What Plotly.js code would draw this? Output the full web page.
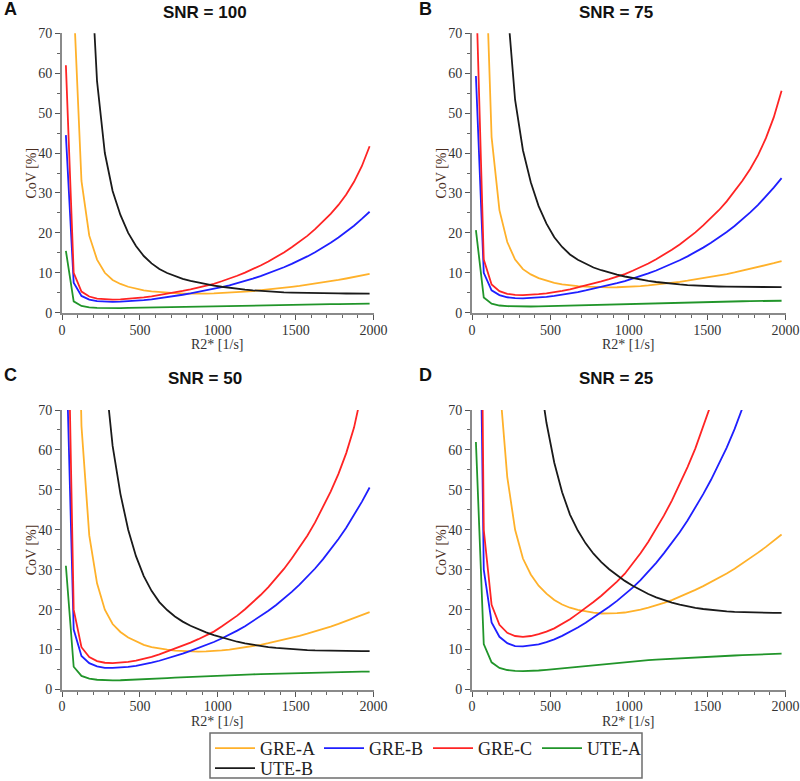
<!DOCTYPE html>
<html>
<head>
<meta charset="utf-8">
<script src="https://cdn.plot.ly/plotly-3.0.1.min.js"></script>
<style>
  html, body { margin: 0; padding: 0; background: #fff; }
  #chart { width: 800px; height: 781px; }
</style>
</head>
<body>
<div id="chart"></div>
<script>
// R2* sample positions [1/s], shared by every panel
const r2star = [25, 75, 125, 175, 225, 275, 325, 375, 425, 475, 525, 575, 625, 675, 725, 775,
    825, 875, 925, 975, 1025, 1075, 1125, 1175, 1225, 1275, 1325, 1375, 1425, 1475, 1525, 1575,
    1625, 1675, 1725, 1775, 1825, 1875, 1925, 1975];

const seriesNames = ["GRE-A", "GRE-B", "GRE-C", "UTE-A", "UTE-B"];
const seriesColors = ["#ffb12a", "#1f1fff", "#ff2424", "#21952a", "#1a1a1a"];

// CoV [%], SNR = 100
const greA_100 = [600, 78, 33, 19.3, 13.3, 10.0, 8.2, 7.2, 6.5, 6.0, 5.6, 5.32, 5.12, 4.98, 4.88, 4.81,
    4.76, 4.75, 4.78, 4.82, 4.9, 5.0, 5.13, 5.27, 5.42, 5.6, 5.8, 6.01, 6.24, 6.47, 6.72, 6.99,
    7.26, 7.56, 7.88, 8.22, 8.57, 8.93, 9.3, 9.7];
const greB_100 = [44.5, 7.5, 4.2, 3.3, 2.9, 2.72, 2.7, 2.75, 2.83, 2.97, 3.14, 3.36, 3.6, 3.88, 4.18, 4.5,
    4.83, 5.18, 5.55, 5.95, 6.38, 6.85, 7.37, 7.93, 8.54, 9.18, 9.85, 10.58, 11.38, 12.23, 13.13, 14.1,
    15.15, 16.3, 17.55, 18.85, 20.25, 21.8, 23.5, 25.3];
const greC_100 = [62, 10, 5.3, 4.05, 3.55, 3.35, 3.3, 3.35, 3.47, 3.62, 3.83, 4.1, 4.4, 4.75, 5.1, 5.48,
    5.87, 6.3, 6.75, 7.25, 7.88, 8.53, 9.25, 10.05, 10.9, 11.83, 12.83, 13.93, 15.1, 16.4, 17.77, 19.25,
    20.92, 22.75, 24.78, 27.0, 29.6, 32.8, 36.7, 41.7];
const uteA_100 = [15.5, 2.85, 1.7, 1.35, 1.22, 1.16, 1.15, 1.16, 1.19, 1.23, 1.28, 1.33, 1.38, 1.43, 1.48, 1.53,
    1.58, 1.63, 1.68, 1.72, 1.76, 1.8, 1.84, 1.87, 1.9, 1.93, 1.96, 1.99, 2.02, 2.05, 2.07, 2.09,
    2.11, 2.13, 2.15, 2.17, 2.19, 2.21, 2.23, 2.25];
const uteB_100 = [900, 320, 160, 95, 58, 40, 30.5, 24.5, 20.0, 16.7, 14.2, 12.35, 10.95, 9.95, 9.15, 8.5,
    7.98, 7.53, 7.15, 6.8, 6.5, 6.22, 5.98, 5.77, 5.59, 5.44, 5.31, 5.2, 5.11, 5.04, 4.98, 4.93,
    4.89, 4.86, 4.84, 4.82, 4.81, 4.8, 4.8, 4.8];

// CoV [%], SNR = 75
const greA_75 = [800, 104, 44, 25.7, 17.7, 13.3, 10.9, 9.6, 8.67, 8.0, 7.47, 7.09, 6.83, 6.64, 6.51, 6.41,
    6.35, 6.33, 6.37, 6.43, 6.53, 6.67, 6.84, 7.03, 7.23, 7.47, 7.73, 8.01, 8.32, 8.63, 8.96, 9.32,
    9.68, 10.08, 10.51, 10.96, 11.43, 11.91, 12.4, 12.93];
const greB_75 = [59.3, 10, 5.6, 4.4, 3.87, 3.63, 3.6, 3.67, 3.77, 3.96, 4.19, 4.48, 4.8, 5.17, 5.57, 6.0,
    6.44, 6.91, 7.4, 7.93, 8.51, 9.13, 9.83, 10.57, 11.39, 12.24, 13.13, 14.11, 15.17, 16.31, 17.51, 18.8,
    20.2, 21.73, 23.4, 25.13, 27.0, 29.07, 31.33, 33.73];
const greC_75 = [82.7, 13.3, 7.07, 5.4, 4.73, 4.47, 4.4, 4.47, 4.63, 4.83, 5.11, 5.47, 5.87, 6.33, 6.8, 7.31,
    7.83, 8.4, 9.0, 9.67, 10.51, 11.37, 12.33, 13.4, 14.53, 15.77, 17.11, 18.57, 20.13, 21.87, 23.69, 25.67,
    27.89, 30.33, 33.04, 36.0, 39.47, 43.73, 48.93, 55.6];
const uteA_75 = [20.7, 3.8, 2.27, 1.8, 1.63, 1.55, 1.53, 1.55, 1.59, 1.64, 1.71, 1.77, 1.84, 1.91, 1.97, 2.04,
    2.11, 2.17, 2.24, 2.29, 2.35, 2.4, 2.45, 2.49, 2.53, 2.57, 2.61, 2.65, 2.69, 2.73, 2.76, 2.79,
    2.81, 2.84, 2.87, 2.89, 2.92, 2.95, 2.97, 3.0];
const uteB_75 = [1200, 427, 213, 127, 77.3, 53.3, 40.7, 32.7, 26.7, 22.3, 18.9, 16.47, 14.6, 13.27, 12.2, 11.33,
    10.64, 10.04, 9.53, 9.07, 8.67, 8.29, 7.97, 7.69, 7.45, 7.25, 7.08, 6.93, 6.81, 6.72, 6.64, 6.57,
    6.52, 6.48, 6.45, 6.43, 6.41, 6.4, 6.4, 6.4];

// CoV [%], SNR = 50
const greA_50 = [1200, 156, 66, 38.6, 26.6, 20, 16.4, 14.4, 13, 12, 11.2, 10.64, 10.24, 9.96, 9.76, 9.62,
    9.52, 9.5, 9.56, 9.64, 9.8, 10, 10.26, 10.54, 10.84, 11.2, 11.6, 12.02, 12.48, 12.94, 13.44, 13.98,
    14.52, 15.12, 15.76, 16.44, 17.14, 17.86, 18.6, 19.4];
const greB_50 = [89, 15, 8.4, 6.6, 5.8, 5.44, 5.4, 5.5, 5.66, 5.94, 6.28, 6.72, 7.2, 7.76, 8.36, 9.0,
    9.66, 10.36, 11.1, 11.9, 12.76, 13.7, 14.74, 15.86, 17.08, 18.36, 19.7, 21.16, 22.76, 24.46, 26.26, 28.2,
    30.3, 32.6, 35.1, 37.7, 40.5, 43.6, 47.0, 50.6];
const greC_50 = [124, 20, 10.6, 8.1, 7.1, 6.7, 6.6, 6.7, 6.94, 7.24, 7.66, 8.2, 8.8, 9.5, 10.2, 10.96,
    11.74, 12.6, 13.5, 14.5, 15.76, 17.06, 18.5, 20.1, 21.8, 23.66, 25.66, 27.86, 30.2, 32.8, 35.54, 38.5,
    41.84, 45.5, 49.56, 54.0, 59.2, 65.6, 73.4, 83.4];
const uteA_50 = [31, 5.7, 3.4, 2.7, 2.44, 2.32, 2.3, 2.32, 2.38, 2.46, 2.56, 2.66, 2.76, 2.86, 2.96, 3.06,
    3.16, 3.26, 3.36, 3.44, 3.52, 3.6, 3.68, 3.74, 3.8, 3.86, 3.92, 3.98, 4.04, 4.1, 4.14, 4.18,
    4.22, 4.26, 4.3, 4.34, 4.38, 4.42, 4.46, 4.5];
const uteB_50 = [1800, 640, 320, 190, 116, 80, 61, 49, 40, 33.4, 28.4, 24.7, 21.9, 19.9, 18.3, 17.0,
    15.96, 15.06, 14.3, 13.6, 13.0, 12.44, 11.96, 11.54, 11.18, 10.88, 10.62, 10.4, 10.22, 10.08, 9.96, 9.86,
    9.78, 9.72, 9.68, 9.64, 9.62, 9.6, 9.6, 9.6];

// CoV [%], SNR = 25
const greA_25 = [2400, 312, 132, 77.2, 53.2, 40, 32.8, 28.8, 26, 24, 22.4, 21.28, 20.48, 19.92, 19.52, 19.24,
    19.04, 19, 19.12, 19.28, 19.6, 20, 20.52, 21.08, 21.68, 22.4, 23.2, 24.04, 24.96, 25.88, 26.88, 27.96,
    29.04, 30.24, 31.52, 32.88, 34.28, 35.72, 37.2, 38.8];
const greB_25 = [178, 30, 16.8, 13.2, 11.6, 10.88, 10.8, 11.0, 11.32, 11.88, 12.56, 13.44, 14.4, 15.52, 16.72, 18.0,
    19.32, 20.72, 22.2, 23.8, 25.52, 27.4, 29.48, 31.72, 34.16, 36.72, 39.4, 42.32, 45.52, 48.92, 52.52, 56.4,
    60.6, 65.2, 70.2, 75.4, 81, 87.2, 94, 101.2];
const greC_25 = [248, 40, 21.2, 16.2, 14.2, 13.4, 13.2, 13.4, 13.88, 14.48, 15.32, 16.4, 17.6, 19.0, 20.4, 21.92,
    23.48, 25.2, 27.0, 29.0, 31.52, 34.12, 37.0, 40.2, 43.6, 47.32, 51.32, 55.72, 60.4, 65.6, 71.08, 77,
    83.68, 91, 99.12, 108, 118.4, 131.2, 146.8, 166.8];
const uteA_25 = [62, 11.4, 6.8, 5.4, 4.88, 4.64, 4.6, 4.64, 4.76, 4.92, 5.12, 5.32, 5.52, 5.72, 5.92, 6.12,
    6.32, 6.52, 6.72, 6.88, 7.04, 7.2, 7.36, 7.48, 7.6, 7.72, 7.84, 7.96, 8.08, 8.2, 8.28, 8.36,
    8.44, 8.52, 8.6, 8.68, 8.76, 8.84, 8.92, 9.0];
const uteB_25 = [3600, 1280, 640, 380, 232, 160, 122, 98, 80, 66.8, 56.8, 49.4, 43.8, 39.8, 36.6, 34,
    31.92, 30.12, 28.6, 27.2, 26, 24.88, 23.92, 23.08, 22.36, 21.76, 21.24, 20.8, 20.44, 20.16, 19.92, 19.72,
    19.56, 19.44, 19.36, 19.28, 19.24, 19.2, 19.2, 19.2];

const panels = [
    { letter: "A", title: "SNR = 100", series: [greA_100, greB_100, greC_100, uteA_100, uteB_100] },
    { letter: "B", title: "SNR = 75", series: [greA_75, greB_75, greC_75, uteA_75, uteB_75] },
    { letter: "C", title: "SNR = 50", series: [greA_50, greB_50, greC_50, uteA_50, uteB_50] },
    { letter: "D", title: "SNR = 25", series: [greA_25, greB_25, greC_25, uteA_25, uteB_25] },
];

const W = 800;
const H = 781;
const px = (x) => x / W;
const py = (y) => (H - y) / H;

// pixel boxes of the four plot areas: [left, right, top, bottom]
const boxes = [
    [62, 373.5, 33.3, 312.7],
    [472, 785.5, 33.3, 312.7],
    [62, 373.5, 410, 689.5],
    [472, 785.5, 410, 689.5],
];

const serif = "Liberation Serif, Times New Roman, serif";
const sans = "Liberation Sans, Arial, sans-serif";

const traces = [];
const layout = {
    width: W,
    height: H,
    // fixed margins: the legend sits low and must not push the plot areas up
    margin: { t: 0, r: 0, b: 0, l: 0, autoexpand: false },
    paper_bgcolor: "#ffffff",
    plot_bgcolor: "#ffffff",
    showlegend: true,
    annotations: [],
    shapes: [],
    legend: {
        orientation: "h",
        x: px(210),
        y: py(730),
        xanchor: "left",
        yanchor: "top",
        bgcolor: "rgba(0,0,0,0)",
        borderwidth: 0,
        itemwidth: 40,
        entrywidth: 54,
        font: { family: serif, size: 18, color: "#222" },
    },
    legend2: {
        orientation: "h",
        x: px(210),
        y: py(750),
        xanchor: "left",
        yanchor: "top",
        bgcolor: "rgba(0,0,0,0)",
        borderwidth: 0,
        itemwidth: 40,
        font: { family: serif, size: 18, color: "#222" },
    },
};

panels.forEach((panel, p) => {
    const n = p === 0 ? "" : String(p + 1);
    const [left, right, top, bottom] = boxes[p];

    panel.series.forEach((values, s) => {
        traces.push({
            x: r2star,
            y: values,
            name: seriesNames[s],
            type: "scatter",
            mode: "lines",
            line: { color: seriesColors[s], width: 1.8 },
            xaxis: "x" + n,
            yaxis: "y" + n,
            showlegend: p === 0,
            legend: s === 4 ? "legend2" : "legend",
            hoverinfo: "skip",
        });
    });

    layout["xaxis" + n] = {
        domain: [px(left), px(right)],
        anchor: "y" + n,
        range: [0, 2000],
        tickvals: [0, 500, 1000, 1500, 2000],
        ticks: "outside",
        ticklen: 5,
        tickwidth: 1,
        tickcolor: "#555",
        ticklabelstandoff: -2,
        minor: { dtick: 100, ticks: "outside", ticklen: 3, tickcolor: "#666", tickwidth: 1 },
        showline: true,
        linecolor: "#8a8a8a",
        linewidth: 2,
        showgrid: false,
        zeroline: false,
        tickfont: { family: serif, size: 14, color: "#333" },
    };
    layout["yaxis" + n] = {
        domain: [py(bottom), py(top)],
        anchor: "x" + n,
        range: [0, 70],
        tickvals: [0, 10, 20, 30, 40, 50, 60, 70],
        ticks: "outside",
        ticklen: 5,
        tickwidth: 1,
        tickcolor: "#555",
        minor: { dtick: 5, ticks: "outside", ticklen: 3, tickcolor: "#666", tickwidth: 1 },
        showline: true,
        linecolor: "#8a8a8a",
        linewidth: 2,
        showgrid: false,
        zeroline: false,
        tickfont: { family: serif, size: 14, color: "#333" },
    };

    // axis titles placed as annotations so their offsets match the figure
    layout.annotations.push({
        xref: "paper", yref: "paper",
        x: px((left + right) / 2), y: py(bottom + 32),
        xanchor: "center", yanchor: "middle",
        text: "R2* [1/s]", showarrow: false, borderpad: 0,
        font: { family: serif, size: 14, color: "#333" },
    });
    layout.annotations.push({
        xref: "paper", yref: "paper",
        x: px(left - 30.5), y: py((top + bottom) / 2),
        xanchor: "center", yanchor: "middle",
        text: "CoV [%]", showarrow: false, textangle: -90,
        font: { family: serif, size: 14, color: "#4b2e22" },
    });

    const titleY = p < 2 ? 12.5 : 378;
    layout.annotations.push({
        xref: "paper", yref: "paper",
        x: px(p % 2 === 0 ? 205 : 616), y: py(titleY),
        xanchor: "center", yanchor: "middle",
        text: panel.title, showarrow: false,
        font: { family: sans, size: 17, color: "#111", weight: "bold" },
    });
    layout.annotations.push({
        xref: "paper", yref: "paper",
        x: px(p % 2 === 0 ? 2 : 417), y: py(p < 2 ? 9 : 374.5),
        xanchor: "left", yanchor: "middle",
        text: panel.letter, showarrow: false,
        font: { family: sans, size: 18, color: "#111", weight: "bold" },
    });
});

// frame around both legend rows
layout.shapes.push({
    type: "rect", xref: "paper", yref: "paper",
    x0: px(210), x1: px(642), y0: py(778), y1: py(733),
    line: { color: "#6e6e6e", width: 1.5 },
});

Plotly.newPlot("chart", traces, layout, { staticPlot: true, displayModeBar: false });
</script>
</body>
</html>
